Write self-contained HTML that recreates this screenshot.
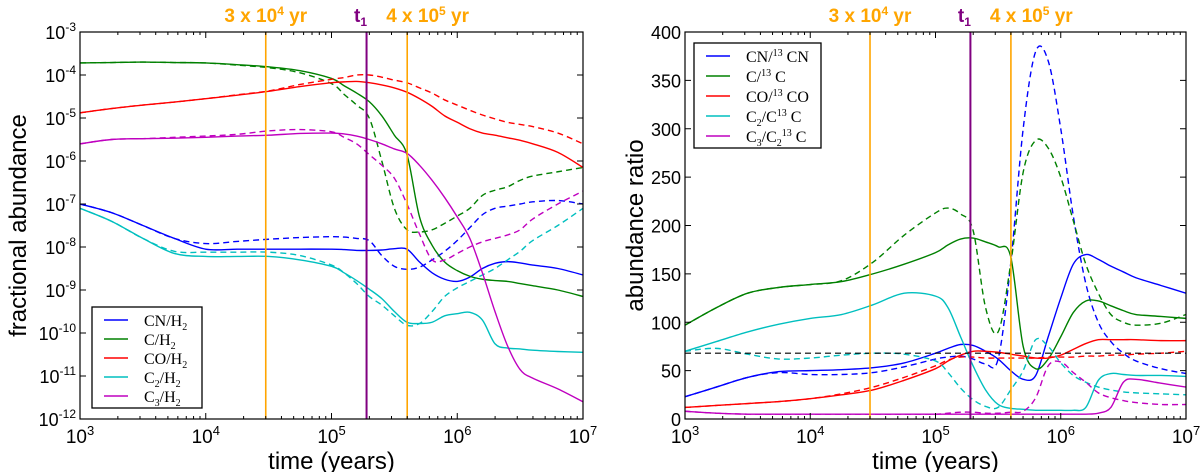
<!DOCTYPE html>
<html><head><meta charset="utf-8"><style>
html,body{margin:0;padding:0;background:#fff;}
svg{display:block;font-family:"Liberation Sans",sans-serif;}
</style></head><body>
<svg id="fig" width="1200" height="472" viewBox="0 0 1200 472"></svg>
<script>
const times=[3,3.25,3.5,3.75,4,4.25,4.5,4.75,5,5.1,5.2,5.3,5.4,5.5,5.6,5.7,5.8,5.9,6,6.1,6.2,6.3,6.4,6.5,6.6,6.8,7];
// left panel: log10 fractional abundance
const cnSolid=[-7.0,-7.2,-7.5,-7.8,-8.05,-8.05,-8.05,-8.05,-8.05,-8.06,-8.08,-8.08,-8.07,-8.04,-8.05,-8.35,-8.6,-8.75,-8.8,-8.7,-8.5,-8.38,-8.34,-8.37,-8.42,-8.5,-8.65];
const cnDash=[-7.0,-7.2,-7.5,-7.8,-7.92,-7.87,-7.82,-7.78,-7.76,-7.77,-7.8,-7.85,-8.2,-8.45,-8.52,-8.47,-8.3,-8.1,-7.85,-7.55,-7.25,-7.1,-7.05,-7.0,-6.95,-6.92,-7.0];
const cSolid=[-3.72,-3.71,-3.7,-3.71,-3.72,-3.76,-3.81,-3.9,-4.08,-4.25,-4.42,-4.62,-4.95,-5.4,-5.85,-7.3,-7.96,-8.35,-8.55,-8.68,-8.75,-8.78,-8.8,-8.85,-8.9,-9.0,-9.15];
const cDash=[-3.72,-3.71,-3.7,-3.71,-3.72,-3.77,-3.83,-3.95,-4.2,-4.45,-4.7,-5.0,-6.0,-7.1,-7.6,-7.65,-7.6,-7.45,-7.28,-7.1,-6.8,-6.68,-6.6,-6.45,-6.35,-6.25,-6.15];
const coSolid=[-4.88,-4.78,-4.7,-4.63,-4.55,-4.47,-4.38,-4.27,-4.18,-4.16,-4.15,-4.18,-4.23,-4.3,-4.4,-4.55,-4.73,-4.95,-5.1,-5.25,-5.35,-5.4,-5.46,-5.52,-5.6,-5.8,-6.15];
const coDash=[-4.88,-4.78,-4.7,-4.63,-4.55,-4.46,-4.37,-4.22,-4.1,-4.06,-4.0,-4.0,-4.05,-4.12,-4.18,-4.3,-4.42,-4.58,-4.7,-4.82,-4.93,-5.02,-5.1,-5.15,-5.2,-5.35,-5.6];
const c2Solid=[-7.1,-7.4,-7.8,-8.15,-8.22,-8.22,-8.22,-8.3,-8.45,-8.6,-8.78,-8.98,-9.2,-9.5,-9.75,-9.78,-9.75,-9.6,-9.55,-9.52,-9.7,-10.25,-10.35,-10.37,-10.4,-10.43,-10.45];
const c2Dash=[-7.1,-7.4,-7.8,-8.1,-8.12,-8.12,-8.12,-8.2,-8.42,-8.6,-8.85,-9.15,-9.35,-9.6,-9.82,-9.78,-9.5,-9.15,-8.95,-8.8,-8.65,-8.5,-8.3,-8.1,-7.85,-7.5,-7.1];
const c3Solid=[-5.6,-5.5,-5.48,-5.47,-5.45,-5.42,-5.4,-5.36,-5.35,-5.37,-5.42,-5.5,-5.6,-5.72,-5.82,-6.1,-6.45,-6.85,-7.3,-7.8,-8.6,-9.5,-10.3,-10.85,-11.05,-11.3,-11.6];
const c3Dash=[-5.6,-5.5,-5.48,-5.45,-5.42,-5.38,-5.3,-5.27,-5.32,-5.45,-5.6,-5.85,-6.1,-6.4,-7.0,-7.7,-8.3,-8.3,-8.15,-8.0,-7.88,-7.8,-7.72,-7.6,-7.35,-7.0,-6.7];
// right panel: abundance ratio
const rCnSolid=[23,33,43,49,50,51,53,58,68,73,77,76,70,62,50,41,45,85,125,160,170,165,158,152,146,138,130];
const rCnDash=[23,33,43,48,46,46,48,54,62,64,65,62,57,62,160,300,380,370,300,210,140,100,80,68,60,52,47];
const rCSolid=[97,115,130,136,139,142,150,160,172,180,186,187,183,178,168,75,52,62,85,110,122,122,117,112,108,106,104];
const rCDash=[97,115,130,136,139,143,162,190,213,218,212,195,115,90,160,255,288,280,250,205,160,130,108,100,97,99,108];
const rCoSolid=[12,14,16,18,21,25,30,40,52,60,66,70,70,69,67,65,63,63,66,72,78,82,82,82,82,81,81];
const rCoDash=[12,14,16,18,21,26,33,43,55,61,64,64,63,63,63,63,63,64,64,64,65,65,66,66,67,68,70];
const rC2Solid=[70,80,90,98,104,108,118,130,127,115,85,55,30,15,11,10,9,9,9,9,12,40,47,46,45,45,44];
const rC2Dash=[70,73,67,62,63,66,68,67,60,48,32,20,13,12,30,50,82,75,58,45,38,33,30,28,27,26,25];
const rC3Solid=[8,6,5,5,5,5,5,5,5,5,5,5,5,5,5,5,5,5,5,5,5,6,12,38,41,37,33];
const rC3Dash=[8,6,5,5,5,5,5,5,5,6,7,7,6,6,7,8,22,55,59,48,38,27,22,19,17,15,15];
const refRatio=68;
const markTimes=[Math.log10(3e4),Math.log10(1.9e5),Math.log10(4e5)];
const leftTicks=[-3,-4,-5,-6,-7,-8,-9,-10,-11,-12];
const rightTicks=[0,50,100,150,200,250,300,350,400];
const xTicks=[3,4,5,6,7];

const NS="http://www.w3.org/2000/svg";
const svg=document.getElementById('fig');
function mk(tag,attrs,parent){const e=document.createElementNS(NS,tag);for(const k in attrs)e.setAttribute(k,attrs[k]);(parent||svg).appendChild(e);return e;}
function pathD(xs,ys){let d=`M${xs[0]},${ys[0]}`;for(let i=0;i<xs.length-1;i++){const x0=xs[Math.max(i-1,0)],y0=ys[Math.max(i-1,0)],x1=xs[i],y1=ys[i],x2=xs[i+1],y2=ys[i+1],x3=xs[Math.min(i+2,xs.length-1)],y3=ys[Math.min(i+2,xs.length-1)];d+=` C${x1+(x2-x0)/6},${y1+(y2-y0)/6} ${x2-(x3-x1)/6},${y2-(y3-y1)/6} ${x2},${y2}`;}return d;}

function panel(cfg){
  const {x0,x1,y0,y1,yf,name}=cfg;
  const xf=t=>x0+(t-3)/4*(x1-x0);
  const g=mk('g',{});
  
  
  const clipId=name+'-clip';
  const cp=mk('clipPath',{id:clipId},g);mk('rect',{x:x0,y:y0,width:x1-x0,height:y1-y0},cp);
  const plot=mk('g',{'clip-path':`url(#${clipId})`},g);
  cfg.series.forEach(s=>{
    const p=mk('path',{d:pathD(times.map(xf),s.v.map(yf)),fill:'none',stroke:s.c,'stroke-width':1.4,'stroke-dasharray':s.dash?'6,4':'none'},plot);
    
    
  });
  if(cfg.ref!==undefined){const r=mk('line',{x1:x0,x2:x1,y1:yf(cfg.ref),y2:yf(cfg.ref),stroke:'#000','stroke-width':1.2,'stroke-dasharray':'6,4'},plot);}
  markTimes.forEach((t,i)=>{const l=mk('line',{x1:xf(t),x2:xf(t),y1:y0,y2:y1,stroke:i==1?'#800080':'#ffa500','stroke-width':i==1?2:1.6},plot);});
  mk('rect',{x:x0,y:y0,width:x1-x0,height:y1-y0,fill:'none',stroke:'#000','stroke-width':1.2},g);
  xTicks.forEach(t=>{const X=xf(t);mk('line',{x1:X,x2:X,y1:y1,y2:y1-6,stroke:'#000'},g);mk('line',{x1:X,x2:X,y1:y0,y2:y0+6,stroke:'#000'},g);
    if(t<7)for(let k=2;k<10;k++){const Xm=xf(t+Math.log10(k));mk('line',{x1:Xm,x2:Xm,y1:y1,y2:y1-3,stroke:'#000'},g);mk('line',{x1:Xm,x2:Xm,y1:y0,y2:y0+3,stroke:'#000'},g);}
    const tx=mk('text',{x:X,y:y1+24,'text-anchor':'middle','font-size':19},g);tx.textContent='10';const sp=mk('tspan',{dy:-8,'font-size':13},tx);sp.textContent=t;});
  cfg.ticks.forEach(v=>{const Y=yf(v);mk('line',{x1:x0,x2:x0+6,y1:Y,y2:Y,stroke:'#000'},g);mk('line',{x1:x1,x2:x1-6,y1:Y,y2:Y,stroke:'#000'},g);
    const tx=mk('text',{x:x0-4,y:Y+7,'text-anchor':'end','font-size':18},g);
    if(cfg.log){tx.textContent='10';const sp=mk('tspan',{dy:-8,'font-size':12},tx);sp.textContent=v;}else tx.textContent=v;});
  const xl=mk('text',{x:(x0+x1)/2,y:469,'text-anchor':'middle','font-size':24},g);xl.textContent='time (years)';
  const yl=mk('text',{x:0,y:0,'text-anchor':'middle','font-size':24,transform:`translate(${cfg.ylx},${(y0+y1)/2}) rotate(-90)`},g);yl.textContent=cfg.ylabel;
  const o='#ffa500';
  const a=mk('text',{x:xf(markTimes[0]),y:22,'text-anchor':'middle','font-size':19,'font-weight':'bold',fill:o},g);a.textContent='3 x 10';let s=mk('tspan',{dy:-7,'font-size':12},a);s.textContent='4';s=mk('tspan',{dy:7},a);s.textContent=' yr';
  const b=mk('text',{x:xf(markTimes[1])-6,y:22,'text-anchor':'middle','font-size':19,'font-weight':'bold',fill:'#800080'},g);b.textContent='t';s=mk('tspan',{dy:4,'font-size':12},b);s.textContent='1';
  const c=mk('text',{x:xf(markTimes[2])-21,y:22,'text-anchor':'start','font-size':19,'font-weight':'bold',fill:o},g);c.textContent='4 x 10';s=mk('tspan',{dy:-7,'font-size':12},c);s.textContent='5';s=mk('tspan',{dy:7},c);s.textContent=' yr';
  const L=cfg.legend;const lg=mk('g',{},g);
  mk('rect',{x:L.x,y:L.y,width:L.w,height:L.h,fill:'#fff',stroke:'#000','stroke-width':1.3},lg);
  L.items.forEach((it,i)=>{const Y=L.y+13+i*L.dy;mk('line',{x1:L.x+12,x2:L.x+36,y1:Y,y2:Y,stroke:it.c,'stroke-width':1.5},lg);
    const t=mk('text',{x:L.x+52,y:Y+6,'font-size':16,'font-family':'"Liberation Serif",serif'},lg);
    it.parts.forEach(p=>{const sp=mk('tspan',{'font-size':p[2]?10:16},t);if(p[1])sp.setAttribute('dy',p[1]);sp.textContent=p[0];});
  });
}
const B='#0000ff',G='#008000',R='#ff0000',C='#00bfbf',M='#bf00bf';
panel({name:'left-panel',x0:80,x1:583,y0:32,y1:419,log:true,ylx:26,ylabel:'fractional abundance',ticks:leftTicks,
  yf:v=>32+(-3-v)/9*387,
  series:[{n:'cn-solid',v:cnSolid,c:B},{n:'cn-dashed',v:cnDash,c:B,dash:1},{n:'c-solid',v:cSolid,c:G},{n:'c-dashed',v:cDash,c:G,dash:1},{n:'co-solid',v:coSolid,c:R},{n:'co-dashed',v:coDash,c:R,dash:1},{n:'c2-solid',v:c2Solid,c:C},{n:'c2-dashed',v:c2Dash,c:C,dash:1},{n:'c3-solid',v:c3Solid,c:M},{n:'c3-dashed',v:c3Dash,c:M,dash:1}],
  legend:{x:92,y:307,w:110,h:101,dy:19,items:[
    {c:B,parts:[['CN/H'],['2',4,1]]},
    {c:G,parts:[['C/H'],['2',4,1]]},
    {c:R,parts:[['CO/H'],['2',4,1]]},
    {c:C,parts:[['C'],['2',4,1],['/H',-4],['2',4,1]]},
    {c:M,parts:[['C'],['3',4,1],['/H',-4],['2',4,1]]}]}});
panel({name:'right-panel',x0:685,x1:1186,y0:32,y1:419,log:false,ylx:643,ylabel:'abundance ratio',ticks:rightTicks,ref:refRatio,
  yf:v=>419-v/400*387,
  series:[{n:'cn-ratio-solid',v:rCnSolid,c:B},{n:'cn-ratio-dashed',v:rCnDash,c:B,dash:1},{n:'c-ratio-solid',v:rCSolid,c:G},{n:'c-ratio-dashed',v:rCDash,c:G,dash:1},{n:'co-ratio-solid',v:rCoSolid,c:R},{n:'co-ratio-dashed',v:rCoDash,c:R,dash:1},{n:'c2-ratio-solid',v:rC2Solid,c:C},{n:'c2-ratio-dashed',v:rC2Dash,c:C,dash:1},{n:'c3-ratio-solid',v:rC3Solid,c:M},{n:'c3-ratio-dashed',v:rC3Dash,c:M,dash:1}],
  legend:{x:694,y:43,w:127,h:105,dy:20,items:[
    {c:B,parts:[['CN/'],['13',-6,1],[' CN',6]]},
    {c:G,parts:[['C/'],['13',-6,1],[' C',6]]},
    {c:R,parts:[['CO/'],['13',-6,1],[' CO',6]]},
    {c:C,parts:[['C'],['2',4,1],['/C',-4],['13',-6,1],[' C',6]]},
    {c:M,parts:[['C'],['3',4,1],['/C',-4],['2',4,1],['13',-10,1],[' C',6]]}]}});
</script>
</body></html>
